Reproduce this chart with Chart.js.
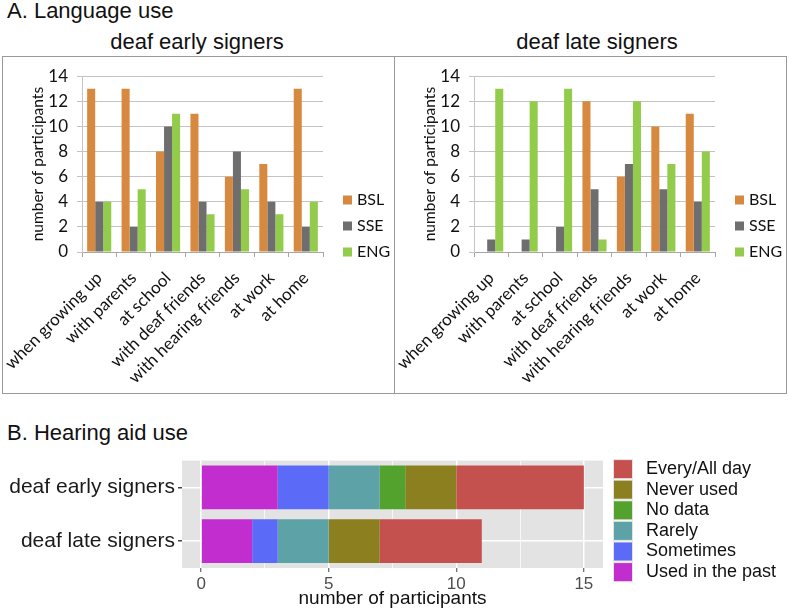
<!DOCTYPE html>
<html><head><meta charset="utf-8">
<script src="https://cdn.jsdelivr.net/npm/chart.js@4.4.1/dist/chart.umd.min.js"></script>
<style>
body{margin:0;width:789px;height:610px;position:relative;background:#fff;font-family:"Liberation Sans",Arial,sans-serif;overflow:hidden}
.abs{position:absolute}
.h{font-size:22px;color:#111;left:7px;white-space:nowrap}
.sub{font-size:22px;color:#111;transform:translateX(-50%);white-space:nowrap}
.frame{border:1px solid #9a9a9a;box-sizing:border-box}
</style></head><body>
<div class="abs h" style="top:-2px">A. Language use</div>
<div class="abs sub" style="left:197px;top:29px">deaf early signers</div>
<div class="abs sub" style="left:597px;top:29px">deaf late signers</div>
<div class="abs frame" style="left:2px;top:56px;width:393px;height:338px"></div>
<div class="abs frame" style="left:394px;top:56px;width:393px;height:338px"></div>
<canvas id="c1" class="abs" style="left:3px;top:57px" width="390" height="335"></canvas>
<canvas id="c2" class="abs" style="left:395px;top:57px" width="390" height="335"></canvas>
<div class="abs h" style="top:420px">B. Hearing aid use</div>
<canvas id="c3" class="abs" style="left:0;top:445px" width="789" height="165"></canvas>
<script>
// ---------- Data ----------
const contexts = ['when growing up','with parents','at school','with deaf friends','with hearing friends','at work','at home'];
const languages = ['BSL','SSE','ENG'];
const earlyBSL = [13,13,8,11,6,7,13];
const earlySSE = [4,2,10,4,8,4,2];
const earlyENG = [4,5,11,3,5,3,4];
const lateBSL  = [0,0,0,12,6,10,11];
const lateSSE  = [1,1,2,5,7,5,4];
const lateENG  = [13,12,13,1,12,7,8];
const langTicks = [0,2,4,6,8,10,12,14];

const groups = ['deaf early signers','deaf late signers'];
const aidLevels = ['Used in the past','Sometimes','Rarely','No data','Never used','Every/All day'];
const usedInPast = [3,2];
const sometimes  = [2,1];
const rarely     = [2,2];
const noData     = [1,0];
const neverUsed  = [2,2];
const everyDay   = [5,4];
const aidTicks = [0,5,10,15];
const aidMinorTicks = [2.5,7.5,12.5];

// ---------- Plugins ----------
const sideLegend = {
  id:'sideLegend',
  afterDraw(chart, args, o){
    if(!o || !o.enabled) return;
    const {ctx, chartArea} = chart;
    let items = chart.data.datasets.map(d=>({label:d.label, color:d.backgroundColor}));
    if(o.reverse) items = items.reverse();
    ctx.save();
    ctx.font = o.font;
    ctx.textBaseline = 'middle';
    items.forEach((it,i)=>{
      const cy = o.anchor==='bottom' ? chartArea.bottom - (items.length-1-i)*o.spacing
                                     : chartArea.top + o.offsetY + i*o.spacing;
      const x = chartArea.right + o.gap;
      if(o.keyBg){ ctx.fillStyle=o.keyBg; ctx.fillRect(x-1, cy-o.box/2-1, o.box+2, o.box+2); }
      ctx.fillStyle = it.color;
      ctx.fillRect(x, cy-o.box/2, o.box, o.box);
      ctx.fillStyle = o.color;
      ctx.fillText(it.label, x+o.box+o.textGap, cy+(o.textDy||0));
    });
    ctx.restore();
  }
};
const panelBg = {
  id:'panelBg',
  beforeDraw(chart, args, o){
    if(!o || !o.color) return;
    const {ctx, chartArea:a} = chart;
    ctx.save(); ctx.fillStyle=o.color; ctx.fillRect(a.left,a.top,a.right-a.left,a.bottom-a.top); ctx.restore();
  }
};
Chart.register(sideLegend, panelBg);

const langColors = ['#D7893F','#6E6E6E','#93CB4B'];
const fA = 'Lato, "Liberation Sans", sans-serif';

function langChart(id, series){
  return new Chart(document.getElementById(id), {
    type:'bar',
    data:{labels:contexts, datasets:series.map((d,i)=>({label:languages[i], data:d, backgroundColor:langColors[i], borderWidth:0}))},
    options:{
      responsive:false, animation:false, devicePixelRatio:1,
      layout:{padding:{top:16,right:70,left:0,bottom:0}},
      datasets:{bar:{categoryPercentage:0.7, barPercentage:1}},
      plugins:{legend:{display:false}, tooltip:{enabled:false},
        sideLegend:{enabled:true, anchor:'bottom', gap:20, box:9, spacing:26, textGap:5, font:'16px '+fA, color:'#111'}},
      scales:{
        x:{
          grid:{display:true, drawOnChartArea:false, drawTicks:true, tickLength:5, color:'#A6A6A6', offset:true},
          border:{color:'#A6A6A6'},
          ticks:{minRotation:45, maxRotation:45, autoSkip:false, font:{family:fA, size:17}, color:'#111', padding:11},
          afterFit:s=>{s.height=140; s.paddingLeft=0; s.paddingRight=0;}
        },
        y:{
          min:0, max:14,
          afterBuildTicks:s=>{s.ticks=langTicks.map(v=>({value:v}));},
          grid:{color:'#C4C4C4', tickLength:5},
          border:{color:'#C4C4C4'},
          ticks:{font:{family:fA, size:17}, color:'#111', padding:9},
          title:{display:true, text:'number of participants', font:{family:fA, size:15.5}, color:'#111', padding:{top:26,bottom:0}},
          afterFit:s=>{s.width=79;}
        }
      }
    }
  });
}
langChart('c1',[earlyBSL,earlySSE,earlyENG]);
langChart('c2',[lateBSL,lateSSE,lateENG]);

// ---------- Panel B ----------
const aidColors = ['#C22DCF','#5C6AF8','#5CA2A7','#53A22D','#8C7F20','#C5514F'];
const aidSeries = [usedInPast,sometimes,rarely,noData,neverUsed,everyDay];
const fB = '"Liberation Sans", Arial, sans-serif';
new Chart(document.getElementById('c3'), {
  type:'bar',
  data:{labels:groups, datasets:aidSeries.map((vals,i)=>({
    label:aidLevels[i], backgroundColor:aidColors[i], borderWidth:0, data:vals
  }))},
  options:{
    indexAxis:'y', responsive:false, animation:false, devicePixelRatio:1,
    layout:{padding:{top:10,right:186,left:0,bottom:0}},
    datasets:{bar:{categoryPercentage:1, barPercentage:0.814}},
    plugins:{legend:{display:false}, tooltip:{enabled:false},
      panelBg:{color:'#E3E3E3'},
      sideLegend:{enabled:true, reverse:true, anchor:'top', offsetY:8.5, gap:11, box:18, spacing:20.6, textGap:14, font:'18px '+fB, color:'#111', keyBg:'#E3E3E3'}},
    scales:{
      x:{
        type:'linear', stacked:true, min:-0.75, max:15.75,
        afterBuildTicks:s=>{s.ticks=[...aidTicks,...aidMinorTicks].sort((a,b)=>a-b).map(v=>({value:v}));},
        grid:{color:'#FFFFFF', lineWidth:c=>aidTicks.includes(c.tick.value)?1.5:0.7,
              tickColor:c=>aidTicks.includes(c.tick.value)?'#444':'rgba(0,0,0,0)', tickLength:4, tickWidth:1},
        border:{display:false},
        ticks:{autoSkip:false, maxRotation:0, font:{family:fB,size:17}, color:'#4D4D4D', padding:2,
               callback:v=>aidTicks.includes(v)?String(v):''},
        title:{display:true, text:'number of participants', font:{family:fB,size:19}, color:'#111', padding:{top:0,bottom:0}},
        afterFit:s=>{s.height=42;}
      },
      y:{
        type:'category', stacked:true, offset:true,
        grid:{color:'#FFFFFF', lineWidth:1.5, tickColor:'#444', tickLength:4, offset:false},
        border:{display:false},
        ticks:{font:{family:fB,size:21}, color:'#1A1A1A', padding:3},
        afterFit:s=>{s.width=182;}
      }
    }
  }
});
</script>
</body></html>
